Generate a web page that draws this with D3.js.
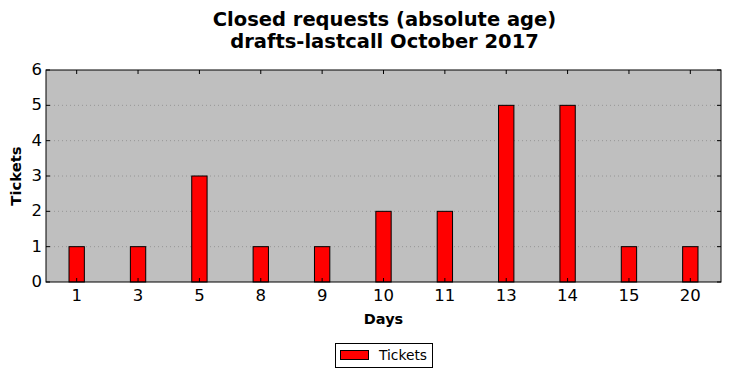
<!DOCTYPE html>
<html><head><meta charset="utf-8">
<script src="https://cdn.jsdelivr.net/npm/d3@7"></script>
<style>body{margin:0;background:#fff}svg{display:block}text{font-family:"DejaVu Sans",sans-serif}</style>
</head><body><svg id="c" width="731" height="378"></svg>
<script>
const categories = ["1","3","5","8","9","10","11","13","14","15","20"];
const tickets = [1,1,3,1,1,2,2,5,5,1,1];
const yTicks = [0,1,2,3,4,5,6];
const titleLines = ["Closed requests (absolute age)","drafts-lastcall October 2017"];

const svg = d3.select("#c");
const L=46, R=721, T=70, B=282;
const x = d3.scaleLinear().domain([-0.5, categories.length-0.5]).range([L,R]);
const y = d3.scaleLinear().domain([0,6]).range([B,T]);
const bw = x(0.25)-x(0);

svg.append("rect").attr("x",L).attr("y",T).attr("width",R-L).attr("height",B-T).attr("fill","#bfbfbf");
// grid
svg.append("g").selectAll("line").data(yTicks.slice(1,-1)).join("line")
  .attr("x1",L).attr("x2",R).attr("y1",d=>y(d)).attr("y2",d=>y(d))
  .attr("stroke","#8c8c8c").attr("stroke-width",0.8).attr("stroke-dasharray","1,3");
// bars
svg.append("g").selectAll("rect").data(tickets).join("rect")
  .attr("x",(d,i)=>x(i)-bw/2).attr("width",bw)
  .attr("y",d=>y(d)).attr("height",d=>y(0)-y(d))
  .attr("fill","#ff0000").attr("stroke","#000").attr("stroke-width",1);
// ticks
const tk = svg.append("g").attr("stroke","#000").attr("stroke-width",1);
categories.forEach((c,i)=>{
  tk.append("line").attr("x1",x(i)).attr("x2",x(i)).attr("y1",B).attr("y2",B-4);
  tk.append("line").attr("x1",x(i)).attr("x2",x(i)).attr("y1",T).attr("y2",T+4);
});
yTicks.forEach(v=>{
  tk.append("line").attr("x1",L).attr("x2",L+4).attr("y1",y(v)).attr("y2",y(v));
  tk.append("line").attr("x1",R).attr("x2",R-4).attr("y1",y(v)).attr("y2",y(v));
});
svg.append("rect").attr("x",L).attr("y",T).attr("width",R-L).attr("height",B-T).attr("fill","none").attr("stroke","#000").attr("stroke-width",1);
// labels
svg.append("g").selectAll("text").data(categories).join("text")
  .attr("x",(d,i)=>x(i)).attr("y",B+18.5).attr("text-anchor","middle").attr("font-size",16.5).text(d=>d);
svg.append("g").selectAll("text").data(yTicks).join("text")
  .attr("x",L-4).attr("y",d=>y(d)+5).attr("text-anchor","end").attr("font-size",16.5).text(d=>d);
svg.append("text").attr("x",(L+R)/2).attr("y",324).attr("text-anchor","middle").attr("font-size",14.5).attr("font-weight","bold").text("Days");
svg.append("text").attr("transform",`translate(21,${(T+B)/2}) rotate(-90)`).attr("text-anchor","middle").attr("font-size",14.8).attr("font-weight","bold").text("Tickets");
titleLines.forEach((t,i)=>svg.append("text").attr("x",(L+R)/2+1).attr("y",26+i*22).attr("text-anchor","middle").attr("font-size",19.5).attr("font-weight","bold").text(t));
// legend
const lg = svg.append("g");
lg.append("rect").attr("x",335.5).attr("y",343.5).attr("width",97).attr("height",24).attr("fill","#fff").attr("stroke","#000");
lg.append("rect").attr("x",340.5).attr("y",350.5).attr("width",28).attr("height",9).attr("fill","#ff0000").attr("stroke","#000");
lg.append("text").attr("x",379).attr("y",360).attr("font-size",13.8).text("Tickets");
</script></body></html>
